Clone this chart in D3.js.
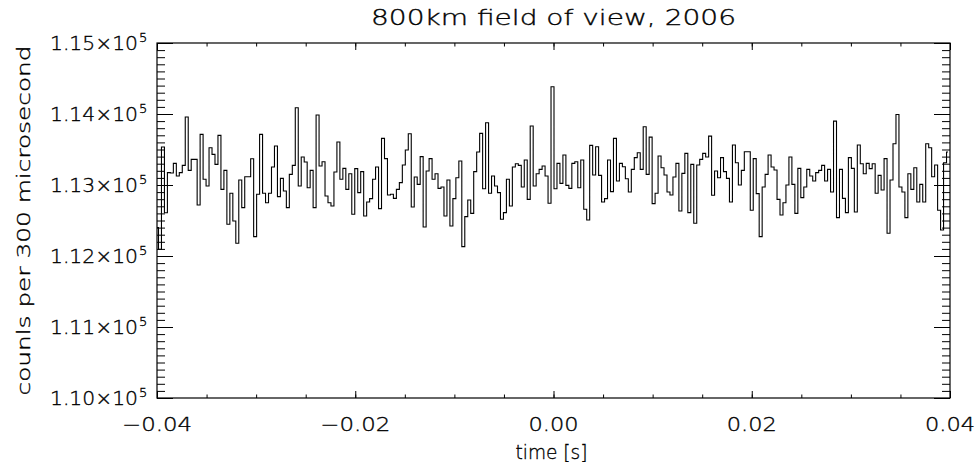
<!DOCTYPE html>
<html>
<head>
<meta charset="utf-8">
<script src="https://cdn.jsdelivr.net/npm/d3@7"></script>
<style>
  html, body { margin: 0; padding: 0; background: #fff; }
  svg { display: block; }
  text { font-family: "DejaVu Sans", "Liberation Sans", sans-serif; font-weight: 200; fill: #000; stroke: #000; stroke-width: 0.35; }
</style>
</head>
<body>
<svg id="chart" width="980" height="468"></svg>
<script>
// Counts per 300 microsecond bin, bins starting at t = -0.04 s
const counts = [
  112400, 112095, 113535, 112610, 113174, 113170, 113305, 113127, 113174, 113277,
  113957, 113206, 113361, 113361, 112719, 113713, 113080, 112986, 113525, 113431,
  113291, 113699, 112939, 113206, 112447, 112883, 112494, 112179, 113070, 112681,
  113117, 113117, 113370,
  112273, 112869, 113713, 112883, 112751, 112883, 113253, 113549, 112836, 113094,
  112916, 112681, 113150, 113277, 114088, 112986, 113394, 113324, 112962, 113206,
  112681, 113985, 113267, 113328, 112845, 112751, 112704, 113183, 113605, 113080,
  113234, 112939, 113159, 112587,
  113230, 112892, 113188, 112564, 112761, 112808, 113080, 113253, 112667, 113657,
  113371, 112859, 112870, 112812, 112939, 113033, 113281, 113492, 113722, 112690,
  113113, 113009, 113399, 112409, 113197, 113371, 113080, 113159, 112953, 112972,
  112564, 113070, 112423, 112808,
  113103, 113338, 112132, 112554, 112789, 112601, 113188, 113464, 113727, 112948,
  113877, 112883, 113127, 112986, 112892, 112517, 112611, 113080, 112704, 113253,
  113300, 113277, 112972, 113352, 112798, 113830, 112986, 113159, 113220, 113267,
  113127, 112742, 114384,
  112948, 113305, 113023, 113422, 112995, 112953, 113305, 113328, 112962, 113352,
  112658, 112508, 113558, 113141, 113539, 113136, 112761, 112808, 113352, 112906,
  113657, 113056, 113305, 113258, 113089, 112902, 113220, 113385, 113455, 113220,
  113821, 113150, 113675, 112737,
  112883, 113408, 113244, 113141, 112902, 112859, 113113, 113305, 112634, 113164,
  113446, 112611, 113291, 112461, 113281, 113361, 113446, 113394, 113689, 112855,
  113197, 113103, 113385, 113188, 113094, 112761, 113563, 113314, 113000, 113206,
  113469, 113469, 112644,
  113371, 112878, 112273, 112972, 113150, 113422, 113253, 113211, 112798, 112578,
  112751, 113000, 113394, 113009, 112601, 113234, 112822, 112972, 113220, 113127,
  113056, 113174, 113206, 113277, 113056, 113220, 112902, 113900, 112540, 113220,
  112812, 112611, 113385, 113234,
  112620, 113563, 113300, 113159, 113305, 113230, 113300, 112883, 113136, 112930,
  113371, 112320, 113070, 113582, 113994, 112972, 112902, 112540, 113159, 112939,
  113244, 112761, 113009, 112761, 113582, 113525, 113117, 113281, 112644, 112367,
  113314, 113464
];
const tStart = -0.04;
const binWidth = 0.0003;

const xDomain = [-0.04, 0.04];
const yDomain = [110000, 115000];
const xMajor = [-0.04, -0.02, 0.00, 0.02, 0.04];
const xMajorLabels = ["\u22120.04", "\u22120.02", "0.00", "0.02", "0.04"];
const yMajor = [110000, 111000, 112000, 113000, 114000, 115000];
const yMantissa = ["1.10", "1.11", "1.12", "1.13", "1.14", "1.15"];
const yExponent = "5";
const titleText = "800km field of view, 2006";
const xTitle = "time [s]";
const yTitle = "counls per 300 microsecond";

const L = 157, R = 950, T = 43, B = 398;
const svg = d3.select("#chart");

const x = d3.scaleLinear().domain(xDomain).range([L, R]);
const y = d3.scaleLinear().domain(yDomain).range([B, T]);

const xMinor = d3.range(0, 17).map(i => -0.04 + i * 0.005);
const yMinor = d3.range(0, 51).map(i => 110000 + i * 100);

function styleAxis(g) {
  g.select(".domain").remove();
  g.selectAll(".tick line").attr("stroke", "#000").attr("stroke-width", 1);
  g.selectAll(".tick text").remove();
}

// ticks on all four sides, pointing inward
svg.append("g").attr("transform", `translate(0,${B})`)
  .call(d3.axisBottom(x).tickValues(xMinor).tickSize(-3.5).tickSizeOuter(0)).call(styleAxis);
svg.append("g").attr("transform", `translate(0,${B})`)
  .call(d3.axisBottom(x).tickValues(xMajor).tickSize(-7).tickSizeOuter(0)).call(styleAxis);
svg.append("g").attr("transform", `translate(0,${T})`)
  .call(d3.axisTop(x).tickValues(xMinor).tickSize(-3.5).tickSizeOuter(0)).call(styleAxis);
svg.append("g").attr("transform", `translate(0,${T})`)
  .call(d3.axisTop(x).tickValues(xMajor).tickSize(-7).tickSizeOuter(0)).call(styleAxis);
svg.append("g").attr("transform", `translate(${L},0)`)
  .call(d3.axisLeft(y).tickValues(yMinor).tickSize(-8).tickSizeOuter(0)).call(styleAxis);
svg.append("g").attr("transform", `translate(${L},0)`)
  .call(d3.axisLeft(y).tickValues(yMajor).tickSize(-16).tickSizeOuter(0)).call(styleAxis);
svg.append("g").attr("transform", `translate(${R},0)`)
  .call(d3.axisRight(y).tickValues(yMinor).tickSize(-8).tickSizeOuter(0)).call(styleAxis);
svg.append("g").attr("transform", `translate(${R},0)`)
  .call(d3.axisRight(y).tickValues(yMajor).tickSize(-16).tickSizeOuter(0)).call(styleAxis);

// frame
svg.append("rect")
  .attr("x", L).attr("y", T).attr("width", R - L).attr("height", B - T)
  .attr("fill", "none").attr("stroke", "#000").attr("stroke-width", 1.2);

// histogram-style step trace
svg.append("clipPath").attr("id", "plotclip")
  .append("rect").attr("x", L).attr("y", T).attr("width", R - L).attr("height", B - T);

const line = d3.line()
  .x((d, i) => x(tStart + i * binWidth))
  .y(d => y(d))
  .curve(d3.curveStep);

svg.append("path")
  .datum(counts)
  .attr("clip-path", "url(#plotclip)")
  .attr("fill", "none")
  .attr("stroke", "#000")
  .attr("stroke-width", 1.1)
  .attr("d", line);

// helper: stretch a text element to a given width
function fit(sel, w) {
  sel.attr("textLength", w).attr("lengthAdjust", "spacingAndGlyphs");
  return sel;
}

// x tick labels
svg.append("g").selectAll("text").data(xMajor).join("text")
  .attr("x", d => x(d)).attr("y", 431)
  .attr("text-anchor", "middle")
  .attr("font-size", 19)
  .text((d, i) => xMajorLabels[i])
  .each(function(d, i) { fit(d3.select(this), xMajorLabels[i].startsWith("\u2212") ? 70 : 50); });

// y tick labels with exponent
const yl = svg.append("g");
yl.selectAll("text.m").data(yMajor).join("text").attr("class", "m")
  .attr("x", 138).attr("y", d => y(d) + 7)
  .attr("text-anchor", "end")
  .attr("font-size", 19)
  .text((d, i) => yMantissa[i] + "\u00d710")
  .call(s => fit(s, 88));
yl.selectAll("text.e").data(yMajor).join("text").attr("class", "e")
  .attr("x", 139).attr("y", d => y(d) - 1)
  .attr("font-size", 13)
  .text(yExponent);

// titles
fit(svg.append("text").attr("x", (L + R) / 2).attr("y", 25)
  .attr("text-anchor", "middle").attr("font-size", 21).text(titleText), 365);
fit(svg.append("text").attr("x", (L + R) / 2 - 2).attr("y", 459)
  .attr("text-anchor", "middle").attr("font-size", 20).text(xTitle), 72);
fit(svg.append("text")
  .attr("transform", `translate(30,${(T + B) / 2}) rotate(-90)`)
  .attr("text-anchor", "middle").attr("font-size", 18).text(yTitle), 350);
</script>
</body>
</html>
